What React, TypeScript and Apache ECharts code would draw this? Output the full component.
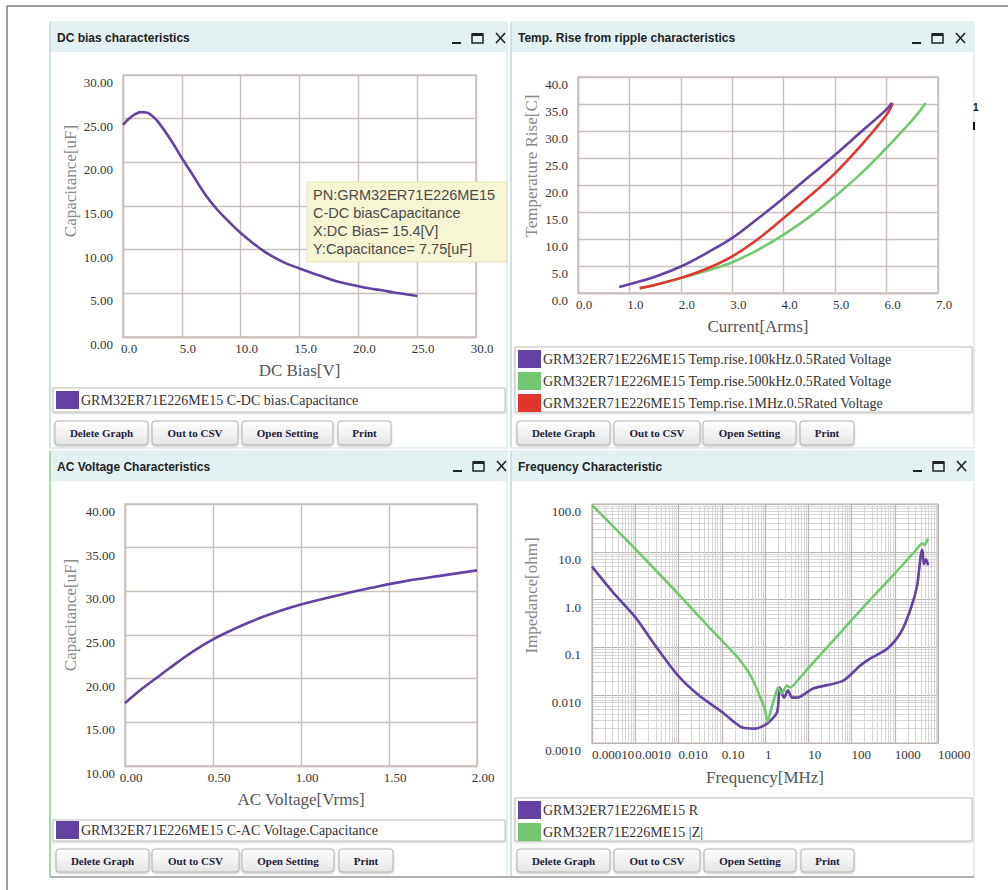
import React, { useEffect, useRef } from "react";
import * as echarts from "echarts";

// ---------------- data ----------------
const dcBiasVolts = [0, 0.5, 1, 1.5, 2, 2.5, 3, 4, 5, 6, 7, 8, 9, 10, 11, 12, 13, 14, 15, 16, 17, 18, 19, 20, 21, 22, 23, 24, 25];
const dcBiasCap = [24.3, 25.0, 25.5, 25.75, 25.7, 25.3, 24.6, 22.7, 20.5, 18.4, 16.3, 14.6, 13.2, 11.9, 10.8, 9.8, 9.0, 8.35, 7.85, 7.35, 6.9, 6.45, 6.1, 5.8, 5.55, 5.35, 5.1, 4.9, 4.7];

const tempCurrent100k = [0.8, 1, 1.5, 2, 2.5, 3, 3.5, 4, 4.5, 5, 5.5, 6, 6.1];
const tempRise100k = [1.1, 1.6, 3.0, 4.9, 7.4, 10.2, 13.8, 17.6, 21.6, 25.6, 29.8, 34.0, 35.2];
const tempCurrent500k = [1.2, 1.5, 2, 2.5, 3, 3.5, 4, 4.5, 5, 5.5, 6, 6.5, 6.76];
const tempRise500k = [0.9, 1.5, 2.8, 4.1, 5.7, 8.0, 10.8, 14.1, 17.9, 22.1, 26.9, 32.0, 35.2];
const tempCurrent1M = [1.2, 1.5, 2, 2.5, 3, 3.5, 4, 4.5, 5, 5.5, 6, 6.12];
const tempRise1M = [0.9, 1.5, 2.8, 4.5, 6.8, 10.0, 13.9, 17.9, 22.2, 27.3, 33.0, 35.2];

const acVolts = [0, 0.1, 0.2, 0.3, 0.4, 0.5, 0.6, 0.7, 0.8, 0.9, 1.0, 1.2, 1.4, 1.6, 1.8, 2.0];
const acCap = [17.2, 18.9, 20.4, 21.9, 23.3, 24.5, 25.5, 26.4, 27.2, 27.9, 28.5, 29.5, 30.4, 31.2, 31.8, 32.4];

const freqR = [0.0001, 0.0003, 0.001, 0.003, 0.01, 0.03, 0.1, 0.3, 0.6, 1.15, 1.9, 2.2, 2.75, 3.4, 4.2, 5.5, 13, 63, 160, 275, 680, 1400, 2350, 3300, 4000, 4360, 4700, 5300, 5900];
const impR = [4.9, 1.45, 0.43, 0.105, 0.025, 0.0098, 0.0045, 0.0021, 0.002, 0.0026, 0.0044, 0.0145, 0.0089, 0.0126, 0.0089, 0.0089, 0.0138, 0.02, 0.042, 0.059, 0.095, 0.21, 0.65, 2.0, 8.5, 11, 5.5, 7, 5.2];
const freqZ = [0.0001, 0.001, 0.01, 0.03, 0.1, 0.2, 0.3, 0.45, 0.6, 0.8, 1.0, 1.15, 1.4, 1.7, 2.0, 2.45, 3.2, 3.8, 4.5, 10, 30, 100, 300, 1000, 2000, 3000, 4300, 4900, 5900];
const impZ = [95, 11.5, 1.3, 0.44, 0.14, 0.072, 0.046, 0.027, 0.016, 0.0085, 0.005, 0.0028, 0.0052, 0.0095, 0.0145, 0.011, 0.016, 0.0145, 0.016, 0.037, 0.11, 0.37, 1.1, 3.5, 7, 10.5, 15, 13.8, 19];

const freqTickLabels = ["0.00010", "0.0010", "0.010", "0.10", "1", "10", "100", "1000", "10000"];
const impTickLabels = ["0.0010", "0.010", "0.1", "1.0", "10.0", "100.0"];

const panelTitles = ["DC bias characteristics", "Temp. Rise from ripple characteristics", "AC Voltage Characteristics", "Frequency Characteristic"];
const legendDC = ["GRM32ER71E226ME15 C-DC bias.Capacitance"];
const legendTemp = [
  "GRM32ER71E226ME15 Temp.rise.100kHz.0.5Rated Voltage",
  "GRM32ER71E226ME15 Temp.rise.500kHz.0.5Rated Voltage",
  "GRM32ER71E226ME15 Temp.rise.1MHz.0.5Rated Voltage",
];
const legendAC = ["GRM32ER71E226ME15 C-AC Voltage.Capacitance"];
const legendFreq = ["GRM32ER71E226ME15 R", "GRM32ER71E226ME15 |Z|"];
const buttonLabels = ["Delete Graph", "Out to CSV", "Open Setting", "Print"];
const tooltipLines = ["PN:GRM32ER71E226ME15", "C-DC biasCapacitance", "X:DC Bias= 15.4[V]", "Y:Capacitance= 7.75[uF]"];

// ---------------- styles ----------------
const SERIF = '"Liberation Serif", "Times New Roman", serif';
const SANS = '"Liberation Sans", Arial, sans-serif';
const PURPLE = "#6442a2";
const GREEN = "#74c771";
const RED = "#e2362c";
const GRID = "#c9bfbb";
const LOGMAJOR = "#bdb3ae";

const pairs = (xs: number[], ys: number[]) => xs.map((x, i) => [x, ys[i]]);

function rect(x: number, y: number, w: number, h: number, style: any, z = -1, r = 0) {
  return { type: "rect", shape: { x, y, width: w, height: h, r }, style, z, silent: true };
}
function text(x: number, y: number, t: string, style: any, z = -1) {
  return {
    type: "text",
    x,
    y,
    style: { text: t, textAlign: "left", textVerticalAlign: "middle", align: "left", verticalAlign: "middle", ...style },
    z,
    silent: true,
  };
}
function line(x1: number, y1: number, x2: number, y2: number, stroke: string, lineWidth: number, z = -1) {
  return { type: "line", shape: { x1, y1, x2, y2 }, style: { stroke, lineWidth }, z, silent: true };
}

function panel(px: number, py: number, pw: number, ph: number, title: string, leftColor: string) {
  return [
    rect(px, py, pw, ph, { fill: "#ffffff", stroke: "#cfe2e4", lineWidth: 1 }, -3),
    rect(px + 1, py + 1, pw - 2, 29, { fill: "#e3f1f3" }, -2),
    line(px, py, px, py + ph, leftColor, 2, -2),
    text(px + 7, py + 16, title, { fontFamily: SANS, fontSize: 12, fontWeight: "bold", fill: "#222" }),
  ];
}

function controls(xu: number, yc: number) {
  return [
    line(xu, yc + 5, xu + 9, yc + 5, "#222", 2),
    rect(xu + 20, yc - 4, 11, 9, { fill: "none", stroke: "#222", lineWidth: 1.5 }),
    rect(xu + 20, yc - 5, 11, 3, { fill: "#222" }),
    line(xu + 44, yc - 5, xu + 53, yc + 5, "#222", 1.6),
    line(xu + 53, yc - 5, xu + 44, yc + 5, "#222", 1.6),
  ];
}

function buttons(xs: number[][], y1: number, y2: number) {
  const out: any[] = [];
  xs.forEach(([a, b], i) => {
    out.push(
      rect(a, y1, b - a, y2 - y1, {
        fill: new echarts.graphic.LinearGradient(0, 0, 0, 1, [
          { offset: 0, color: "#ffffff" },
          { offset: 1, color: "#e4e4e4" },
        ]),
        stroke: "#b2b2b2",
        lineWidth: 1,
        shadowBlur: 2,
        shadowOffsetY: 1,
        shadowColor: "rgba(0,0,0,0.25)",
      }, -1, 3)
    );
    out.push(
      text((a + b) / 2, (y1 + y2) / 2, buttonLabels[i], {
        fontFamily: SERIF, fontSize: 11, fontWeight: "bold", fill: "#1c1c3a", textAlign: "center", align: "center",
      })
    );
  });
  return out;
}

function legendBox(x: number, y: number, w: number, h: number, items: string[], colors: string[], y0: number, step: number) {
  const out: any[] = [rect(x, y, w, h, { fill: "#ffffff", stroke: "#bdbdbd", lineWidth: 1, shadowBlur: 2, shadowColor: "rgba(0,0,0,0.2)", shadowOffsetY: 1 }, -1)];
  items.forEach((t, i) => {
    const cy = y0 + i * step;
    out.push(rect(x + 3, cy - 9, 23, 18, { fill: colors[i] }, -1));
    out.push(text(x + 28, cy, t, { fontFamily: SERIF, fontSize: 14, fill: "#333" }));
  });
  return out;
}

const labelBase = { fontFamily: SERIF, fontSize: 13, color: "#333" };
const splitBase = { show: true, lineStyle: { color: GRID, width: 1.4 } };

function linX(grid: number, min: number, max: number, interval: number, dec: number, name: string) {
  return {
    type: "value", gridIndex: grid, min, max, interval,
    name, nameLocation: "middle", nameGap: 25,
    nameTextStyle: { fontFamily: SERIF, fontSize: 17, color: "#555" },
    axisLine: { show: true, lineStyle: { color: GRID, width: 1.4 } },
    axisTick: { show: false },
    splitLine: splitBase,
    axisLabel: { ...labelBase, margin: 5, align: "center", padding: [0, 0, 0, 12], formatter: (v: number) => v.toFixed(dec) },
  };
}
function linY(grid: number, min: number, max: number, interval: number, dec: number, name: string, gap: number, lift: number) {
  return {
    type: "value", gridIndex: grid, min, max, interval,
    name, nameLocation: "middle", nameGap: gap, nameRotate: 90,
    nameTextStyle: { fontFamily: SERIF, fontSize: 17, color: "#888", padding: [0, 0, 0, lift] },
    axisLine: { show: true, lineStyle: { color: GRID, width: 1.4 } },
    axisTick: { show: false },
    splitLine: splitBase,
    axisLabel: { ...labelBase, margin: 10, verticalAlign: "top", padding: [1, 0, 0, 0], formatter: (v: number) => v.toFixed(dec) },
  };
}

const lineSeries = (x: number, y: number, data: number[][], color: string, smooth: number = 0.4) => ({
  type: "line", xAxisIndex: x, yAxisIndex: y, data, showSymbol: false, smooth,
  lineStyle: { color, width: 2.6 }, itemStyle: { color }, silent: true,
});

export default function App() {
  const ref = useRef<HTMLDivElement>(null);
  useEffect(() => {
    if (!ref.current) return;
    const chart = echarts.init(ref.current, undefined, { renderer: "svg" });

    const graphics: any[] = [
      line(7, 6, 1008, 6, "#7d7d7d", 1.5),
      line(7, 6, 7, 890, "#7d7d7d", 1.5),
      ...panel(50, 22, 457, 426, panelTitles[0], "#cfe2e4"),
      ...panel(511, 22, 463, 426, panelTitles[1], "#cfe2e4"),
      ...panel(50, 451, 457, 426, panelTitles[2], "#a9dba9"),
      ...panel(511, 451, 463, 426, panelTitles[3], "#cfe2e4"),
      line(50, 877, 974, 877, "#9a9a9a", 1.5),
      ...controls(452, 38),
      ...controls(912, 38),
      ...controls(453, 466),
      ...controls(913, 466),
      ...legendBox(53, 388, 452, 24, legendDC, [PURPLE], 400, 22),
      ...legendBox(515, 347, 457, 65, legendTemp, [PURPLE, GREEN, RED], 359, 22),
      ...legendBox(53, 820, 452, 21, legendAC, [PURPLE], 830, 22),
      ...legendBox(515, 798, 457, 43, legendFreq, [PURPLE, GREEN], 810, 22),
      ...buttons([[55, 148], [152, 238], [242, 333], [338, 391]], 421, 445),
      ...buttons([[517, 610], [614, 700], [703, 796], [800, 854]], 421, 445),
      ...buttons([[56, 149], [152, 239], [242, 334], [339, 393]], 849, 872),
      ...buttons([[517, 610], [614, 700], [704, 796], [801, 854]], 849, 872),
      text(973, 107, "1", { fontFamily: SANS, fontSize: 10, fontWeight: "bold", fill: "#111" }),
      rect(973, 122, 2, 8, { fill: "#111" }),
      // data tooltip
      rect(307, 182, 200, 80, { fill: "#f6f6d2", stroke: "#e3e3b8", lineWidth: 1 }, 50),
      ...tooltipLines.map((t, i) => text(313, 195 + i * 18, t, { fontFamily: SANS, fontSize: 14.5, fill: "#4a4a4a" }, 51)),
    ];

    const option: any = {
      animation: false,
      backgroundColor: "#ffffff",
      grid: [
        { left: 123, top: 75, width: 353, height: 262, show: true, backgroundColor: "#fff", borderColor: GRID, borderWidth: 1.4 },
        { left: 578, top: 77, width: 360, height: 216, show: true, backgroundColor: "#fff", borderColor: GRID, borderWidth: 1.4 },
        { left: 125, top: 504, width: 352, height: 262, show: true, backgroundColor: "#fff", borderColor: GRID, borderWidth: 1.4 },
        { left: 592, top: 504, width: 346, height: 239, show: true, backgroundColor: "#fff", borderColor: LOGMAJOR, borderWidth: 1.2 },
      ],
      xAxis: [
        linX(0, 0, 30, 5, 1, "DC Bias[V]"),
        linX(1, 0, 7, 1, 1, "Current[Arms]"),
        linX(2, 0, 2, 0.5, 2, "AC Voltage[Vrms]"),
        {
          type: "log", logBase: 10, gridIndex: 3, min: 0.0001, max: 10000, splitNumber: 8,
          name: "Frequency[MHz]", nameLocation: "middle", nameGap: 26,
          nameTextStyle: { fontFamily: SERIF, fontSize: 17, color: "#555" },
          axisLine: { show: true, lineStyle: { color: LOGMAJOR, width: 1.2 } },
          axisTick: { show: false },
          splitLine: { show: true, lineStyle: { color: LOGMAJOR, width: 1.2 } },
          minorTick: { show: false, splitNumber: 9 },
          minorSplitLine: { show: true, lineStyle: { color: "#d6d6d6", width: 1 } },
          axisLabel: { ...labelBase, margin: 5, align: "left", formatter: (v: number) => freqTickLabels[Math.round(Math.log10(v)) + 4] },
        },
      ],
      yAxis: [
        linY(0, 0, 30, 5, 2, "Capacitance[uF]", 44, 50),
        linY(1, 0, 40, 5, 1, "Temperature Rise[C]", 38, 38),
        linY(2, 10, 40, 5, 2, "Capacitance[uF]", 46, 40),
        {
          type: "log", logBase: 10, gridIndex: 3, min: 0.001, max: 100, splitNumber: 5,
          name: "Impedance[ohm]", nameLocation: "middle", nameGap: 52, nameRotate: 90,
          nameTextStyle: { fontFamily: SERIF, fontSize: 17, color: "#888", padding: [0, 0, 0, 56] },
          axisLine: { show: true, lineStyle: { color: LOGMAJOR, width: 1.2 } },
          axisTick: { show: false },
          splitLine: { show: true, lineStyle: { color: LOGMAJOR, width: 1.2 } },
          minorTick: { show: false, splitNumber: 9 },
          minorSplitLine: { show: true, lineStyle: { color: "#d6d6d6", width: 1 } },
          axisLabel: { ...labelBase, margin: 11, verticalAlign: "top", padding: [1, 0, 0, 0], formatter: (v: number) => impTickLabels[Math.round(Math.log10(v)) + 3] },
        },
      ],
      series: [
        lineSeries(0, 0, pairs(dcBiasVolts, dcBiasCap), PURPLE),
        lineSeries(1, 1, pairs(tempCurrent500k, tempRise500k), GREEN),
        lineSeries(1, 1, pairs(tempCurrent1M, tempRise1M), RED),
        lineSeries(1, 1, pairs(tempCurrent100k, tempRise100k), PURPLE),
        lineSeries(2, 2, pairs(acVolts, acCap), PURPLE),
        lineSeries(3, 3, pairs(freqR, impR), PURPLE, 0.25),
        lineSeries(3, 3, pairs(freqZ, impZ), GREEN, 0.2),
      ],
      graphic: { elements: graphics },
    };
    chart.setOption(option);
    return () => chart.dispose();
  }, []);
  return <div ref={ref} style={{ position: "absolute", left: 0, top: 0, width: 1008, height: 890 }} />;
}
